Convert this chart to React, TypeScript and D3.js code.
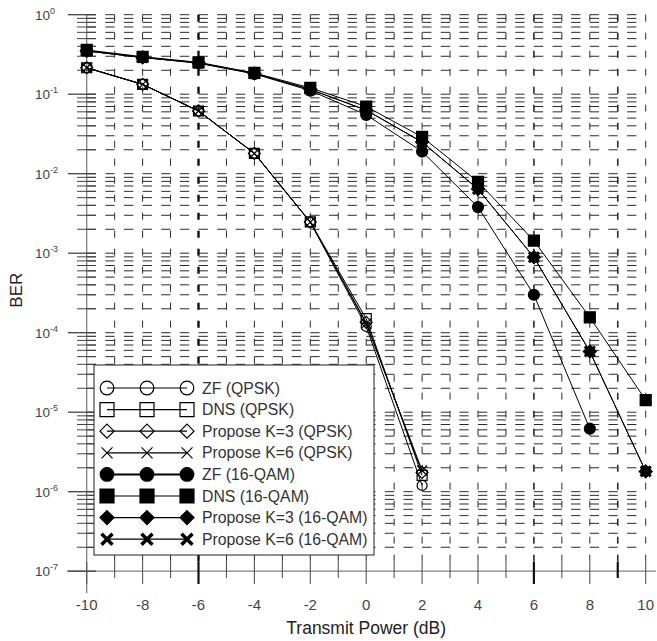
import React, { useRef, useEffect } from "react";
import * as d3 from "d3";

// transmit power (dB)
const power = [-10, -8, -6, -4, -2, 0, 2, 4, 6, 8, 10];

// QPSK curves (stop at 2 dB)
const zfQpsk = [0.215, 0.133, 0.0615, 0.018, 0.00245, 1.2e-4, 1.2e-6];
const dnsQpsk = [0.215, 0.133, 0.0615, 0.018, 0.00248, 1.5e-4, 1.6e-6];
const k3Qpsk = [0.215, 0.133, 0.0615, 0.018, 0.00246, 1.35e-4, 1.75e-6];
const k6Qpsk = [0.215, 0.133, 0.0615, 0.018, 0.00246, 1.3e-4, 1.85e-6];

// 16-QAM curves
const zfQam = [0.35, 0.29, 0.245, 0.18, 0.111, 0.055, 0.019, 0.0038, 3.0e-4, 6.2e-6];
const dnsQam = [0.36, 0.296, 0.252, 0.185, 0.12, 0.07, 0.029, 0.0079, 0.00144, 1.56e-4, 1.42e-5];
const k3Qam = [0.35, 0.29, 0.248, 0.182, 0.115, 0.063, 0.025, 0.0064, 8.9e-4, 5.8e-5, 1.8e-6];
const k6Qam = [0.35, 0.29, 0.248, 0.182, 0.115, 0.063, 0.025, 0.0064, 8.9e-4, 5.8e-5, 1.8e-6];

const seriesNames = [
  "ZF (QPSK)",
  "DNS (QPSK)",
  "Propose K=3 (QPSK)",
  "Propose K=6 (QPSK)",
  "ZF (16-QAM)",
  "DNS (16-QAM)",
  "Propose K=3 (16-QAM)",
  "Propose K=6 (16-QAM)",
];
const seriesShapes = ["circle", "square", "diamond", "x", "circle", "square", "diamond", "x"];

const xTicks = [-10, -8, -6, -4, -2, 0, 2, 4, 6, 8, 10];
const yExps = [0, -1, -2, -3, -4, -5, -6, -7];

function markerPath(shape, r) {
  const p = d3.path();
  if (shape === "circle") {
    p.moveTo(r, 0);
    p.arc(0, 0, r, 0, Math.PI * 2);
    p.closePath();
  } else if (shape === "square") {
    p.rect(-r, -r, 2 * r, 2 * r);
  } else if (shape === "diamond") {
    p.moveTo(0, -r);
    p.lineTo(r, 0);
    p.lineTo(0, r);
    p.lineTo(-r, 0);
    p.closePath();
  } else {
    p.moveTo(-r, -r);
    p.lineTo(r, r);
    p.moveTo(r, -r);
    p.lineTo(-r, r);
  }
  return p.toString();
}

export default function App() {
  const svgRef = useRef(null);

  useEffect(() => {
    const svg = d3.select(svgRef.current);
    svg.selectAll("*").remove();

    const x = d3.scaleLinear().domain([-10, 10]).range([86.7, 645.7]);
    const y = d3.scaleLog().domain([1, 1e-7]).range([14.7, 571.2]);

    const series = seriesNames.map((name, i) => ({
      name,
      shape: seriesShapes[i],
      filled: i >= 4,
      values: [zfQpsk, dnsQpsk, k3Qpsk, k6Qpsk, zfQam, dnsQam, k3Qam, k6Qam][i],
    }));

    const grid = svg.append("g").attr("class", "grid");

    // horizontal dashed grid on every log tick
    const hVals = [1];
    yExps.slice(1).forEach((e) => {
      for (let m = 1; m <= 9; m++) {
        const v = m * Math.pow(10, e);
        if (v < 1 && v > 1e-7) hVals.push(v);
      }
    });
    const period = ((x(1) - x(0)) * 2) / 3;
    grid
      .selectAll(".hgrid")
      .data(hVals)
      .join("line")
      .attr("class", "hgrid")
      .attr("x1", x(-10))
      .attr("x2", x(10))
      .attr("y1", (d) => y(d))
      .attr("y2", (d) => y(d))
      .attr("stroke", "#2a2a2a")
      .attr("stroke-width", 1)
      .attr("stroke-dasharray", `${period / 2},${period / 2}`);

    // vertical dashed grid every 1 dB
    const vVals = d3.range(-9, 11);
    grid
      .selectAll(".vgrid")
      .data(vVals)
      .join("line")
      .attr("class", "vgrid")
      .attr("x1", (d) => x(d))
      .attr("x2", (d) => x(d))
      .attr("y1", y(1))
      .attr("y2", y(1e-7))
      .attr("stroke", (d) => (d === -6 ? "#111" : "#2a2a2a"))
      .attr("stroke-width", (d) => (d === -6 ? 2.4 : d === 6 || d === 9 ? 1.6 : 1))
      .attr("stroke-dasharray", "7,11");

    // axes
    const axis = svg.append("g").attr("class", "axes");
    axis
      .append("line")
      .attr("x1", x(-10))
      .attr("x2", x(-10))
      .attr("y1", y(1))
      .attr("y2", 593)
      .attr("stroke", "#808080")
      .attr("stroke-width", 1.3);
    axis
      .append("line")
      .attr("x1", 67)
      .attr("x2", 656)
      .attr("y1", y(1e-7))
      .attr("y2", y(1e-7))
      .attr("stroke", "#808080")
      .attr("stroke-width", 1.3);

    // y ticks
    const yMinor = hVals.filter((v) => Math.abs(Math.log10(v) - Math.round(Math.log10(v))) > 1e-6);
    axis
      .selectAll(".ymin")
      .data(yMinor)
      .join("line")
      .attr("class", "ymin")
      .attr("x1", 77)
      .attr("x2", 96)
      .attr("y1", (d) => y(d))
      .attr("y2", (d) => y(d))
      .attr("stroke", "#444");
    axis
      .selectAll(".ymaj")
      .data(yExps)
      .join("line")
      .attr("class", "ymaj")
      .attr("x1", 68)
      .attr("x2", 96)
      .attr("y1", (d) => y(Math.pow(10, d)))
      .attr("y2", (d) => y(Math.pow(10, d)))
      .attr("stroke", "#444")
      .attr("stroke-width", 1.3);

    const yLab = axis
      .selectAll(".ylab")
      .data(yExps)
      .join("text")
      .attr("class", "ylab")
      .attr("x", 35)
      .attr("y", (d) => y(Math.pow(10, d)) + 5)
      .attr("font-family", "Liberation Sans, Arial, sans-serif")
      .attr("font-size", 13.5)
      .attr("fill", "#444");
    yLab.append("tspan").text("10");
    yLab
      .append("tspan")
      .attr("dy", -6)
      .attr("font-size", 9)
      .text((d) => (d === 0 ? "0" : "-" + Math.abs(d)));

    // x ticks
    const xAll = d3.range(-10, 11);
    axis
      .selectAll(".xtick")
      .data(xAll)
      .join("line")
      .attr("class", "xtick")
      .attr("x1", (d) => x(d))
      .attr("x2", (d) => x(d))
      .attr("y1", 562)
      .attr("y2", (d) => (d % 2 === 0 ? 584 : 578))
      .attr("stroke", (d) => (d === -6 || d === 6 || d === 9 ? "#111" : "#555"))
      .attr("stroke-width", (d) => (d === -6 || d === 6 || d === 9 ? 2.2 : 1.1));
    axis
      .selectAll(".xlab")
      .data(xTicks)
      .join("text")
      .attr("class", "xlab")
      .attr("x", (d) => x(d))
      .attr("y", 610)
      .attr("text-anchor", "middle")
      .attr("font-family", "Liberation Sans, Arial, sans-serif")
      .attr("font-size", 15)
      .attr("fill", "#444")
      .text((d) => d);

    svg
      .append("text")
      .attr("x", x(0))
      .attr("y", 634)
      .attr("text-anchor", "middle")
      .attr("font-family", "Liberation Sans, Arial, sans-serif")
      .attr("font-size", 17.5)
      .attr("fill", "#222")
      .text("Transmit Power (dB)");
    svg
      .append("text")
      .attr("transform", `translate(22,${y(1e-3) + 37}) rotate(-90)`)
      .attr("text-anchor", "middle")
      .attr("font-family", "Liberation Sans, Arial, sans-serif")
      .attr("font-size", 17)
      .attr("fill", "#222")
      .text("BER");

    // curves
    const line = d3
      .line()
      .x((d) => x(d[0]))
      .y((d) => y(d[1]));
    const plot = svg.append("g").attr("class", "plot");
    plot
      .selectAll(".curve")
      .data(series)
      .join("path")
      .attr("class", "curve")
      .attr("fill", "none")
      .attr("stroke", "#000")
      .attr("stroke-width", 1)
      .attr("d", (s) => line(s.values.map((v, i) => [power[i], v])));

    series.forEach((s) => {
      const r = s.filled
        ? s.shape === "circle" ? 5.5 : s.shape === "square" ? 5.5 : s.shape === "diamond" ? 6.5 : 5
        : s.shape === "circle" ? 5 : s.shape === "square" ? 5 : s.shape === "diamond" ? 6 : 5;
      plot
        .selectAll(null)
        .data(s.values.map((v, i) => [power[i], v]))
        .join("path")
        .attr("transform", (d) => `translate(${x(d[0])},${y(d[1])})`)
        .attr("d", markerPath(s.shape, r))
        .attr("fill", s.filled && s.shape !== "x" ? "#000" : "none")
        .attr("stroke", "#000")
        .attr("stroke-width", s.shape === "x" && s.filled ? 3 : 1.2);
    });

    // legend
    const legend = svg.append("g").attr("class", "legend");
    legend
      .append("rect")
      .attr("x", 94)
      .attr("y", 365)
      .attr("width", 280)
      .attr("height", 190)
      .attr("fill", "#fff")
      .attr("stroke", "#222")
      .attr("stroke-width", 1);
    const mx = [107, 147, 187];
    series.forEach((s, i) => {
      const ry = 388 + i * 21.6;
      const g = legend.append("g");
      g.append("line")
        .attr("x1", mx[0])
        .attr("x2", mx[2])
        .attr("y1", ry)
        .attr("y2", ry)
        .attr("stroke", "#000")
        .attr("stroke-width", s.filled && s.shape === "circle" ? 2 : 1.2);
      const r = s.shape === "circle" ? 6.8 : s.shape === "square" ? 7 : s.shape === "diamond" ? 7 : 5.5;
      g.selectAll("path")
        .data(mx)
        .join("path")
        .attr("transform", (d) => `translate(${d},${ry})`)
        .attr("d", markerPath(s.shape, r))
        .attr("fill", s.filled && s.shape !== "x" ? "#000" : "none")
        .attr("stroke", "#000")
        .attr("stroke-width", s.shape === "x" && s.filled ? 3.5 : 1.2);
      g.append("text")
        .attr("x", 202)
        .attr("y", ry + 5.5)
        .attr("font-family", "Liberation Sans, Arial, sans-serif")
        .attr("font-size", 15.8)
        .attr("fill", "#333")
        .text(s.name);
    });
  }, []);

  return (
    <svg
      ref={svgRef}
      width={657}
      height={641}
      style={{ position: "absolute", left: 0, top: 0, background: "#fff" }}
    />
  );
}
